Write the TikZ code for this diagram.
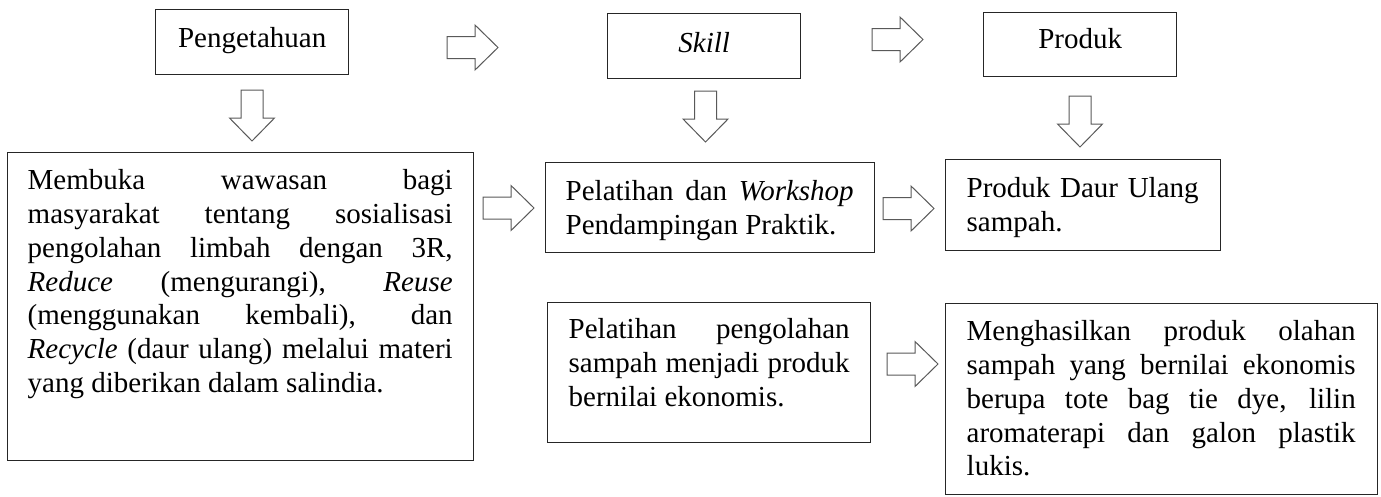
\documentclass[tikz,border=0pt]{standalone}
\usepackage{fontspec}
\setmainfont{Liberation Serif}
\newlength\mylm
\newlength\mytw
\newcommand{\myfb}[1]{\rule{0pt}{#1pt}}
\newcommand{\myjl}[1]{\hbox to\linewidth{\hskip\mylm\hbox to\mytw{\spaceskip=0.25em plus 1fil\relax #1}\hfil}}
\newcommand{\myel}[1]{\hbox to\linewidth{\hskip\mylm #1\hfil}}
\newcommand{\mycl}[1]{\hbox to\linewidth{\hfil #1\hfil}}
\newcommand{\mytb}[5]{\parbox[t][#2pt][t]{#1pt}{\setlength\mylm{#3pt}\setlength\mytw{#4pt}#5}}
\begin{document}
\begin{tikzpicture}[x=1pt,y=-1pt,
  box/.style={draw=black!85, line width=1.4pt, inner sep=0pt, anchor=north west,
    font=\fontsize{29}{33.8}\selectfont},
  barrow/.style={draw=black!65, line width=1pt, fill=white, line join=miter},
  blockarrow/.pic={\path[barrow] (0,-11) -- (28,-11) -- (28,-22.5) -- (51,0) -- (28,22.5) -- (28,11) -- (0,11) -- cycle;}]
\useasboundingbox (0,0) rectangle (1381,496);

% top row
\node[box] (peng) at (155,9) {\mytb{193}{65}{0}{193}{\mycl{\myfb{38}Pengetahuan}}};
\node[box] (skill) at (607,13) {\mytb{193}{65}{0}{193}{\mycl{\myfb{39}\textit{Skill}}}};
\node[box] (prod) at (983,12) {\mytb{193}{64}{0}{193}{\mycl{\myfb{36}Produk}}};

% left big box
\node[box] (membuka) at (7,152) {\mytb{466}{308}{20}{425}{%
  \myjl{\myfb{37}Membuka wawasan bagi}%
  \myjl{masyarakat tentang sosialisasi}%
  \myjl{pengolahan limbah dengan 3R,}%
  \myjl{\textit{Reduce} (mengurangi), \textit{Reuse}}%
  \myjl{(menggunakan kembali), dan}%
  \myjl{\textit{Recycle} (daur ulang) melalui materi}%
  \myel{yang diberikan dalam salindia.}}};

% middle column
\node[box] (workshop) at (545,162) {\mytb{329}{90}{20}{288}{%
  \myjl{\myfb{38}Pelatihan dan \textit{Workshop}}%
  \myel{Pendampingan Praktik.}}};
\node[box] (olah) at (547,302) {\mytb{323}{140}{21}{281}{%
  \myjl{\myfb{36}Pelatihan pengolahan}%
  \myjl{sampah menjadi produk}%
  \myel{bernilai ekonomis.}}};

% right column
\node[box] (daur) at (945,159) {\mytb{275}{91}{21}{232}{%
  \myjl{\myfb{38}Produk Daur Ulang}%
  \myel{sampah.}}};
\node[box] (hasil) at (945,303) {\mytb{432}{191}{21}{389}{%
  \myjl{\myfb{37}Menghasilkan produk olahan}%
  \myjl{sampah yang bernilai ekonomis}%
  \myjl{berupa tote bag tie dye, lilin}%
  \myjl{aromaterapi dan galon plastik}%
  \myel{lukis.}}};

% block arrows
\pic at (447,47.5) {blockarrow};
\pic at (872,39.5) {blockarrow};
\pic at (483,208) {blockarrow};
\pic at (883,208.5) {blockarrow};
\pic at (887,364) {blockarrow};
\pic[rotate=-90] at (252,90) {blockarrow};
\pic[rotate=-90] at (705.5,91) {blockarrow};
\pic[rotate=-90] at (1080,96) {blockarrow};
\end{tikzpicture}
\end{document}
